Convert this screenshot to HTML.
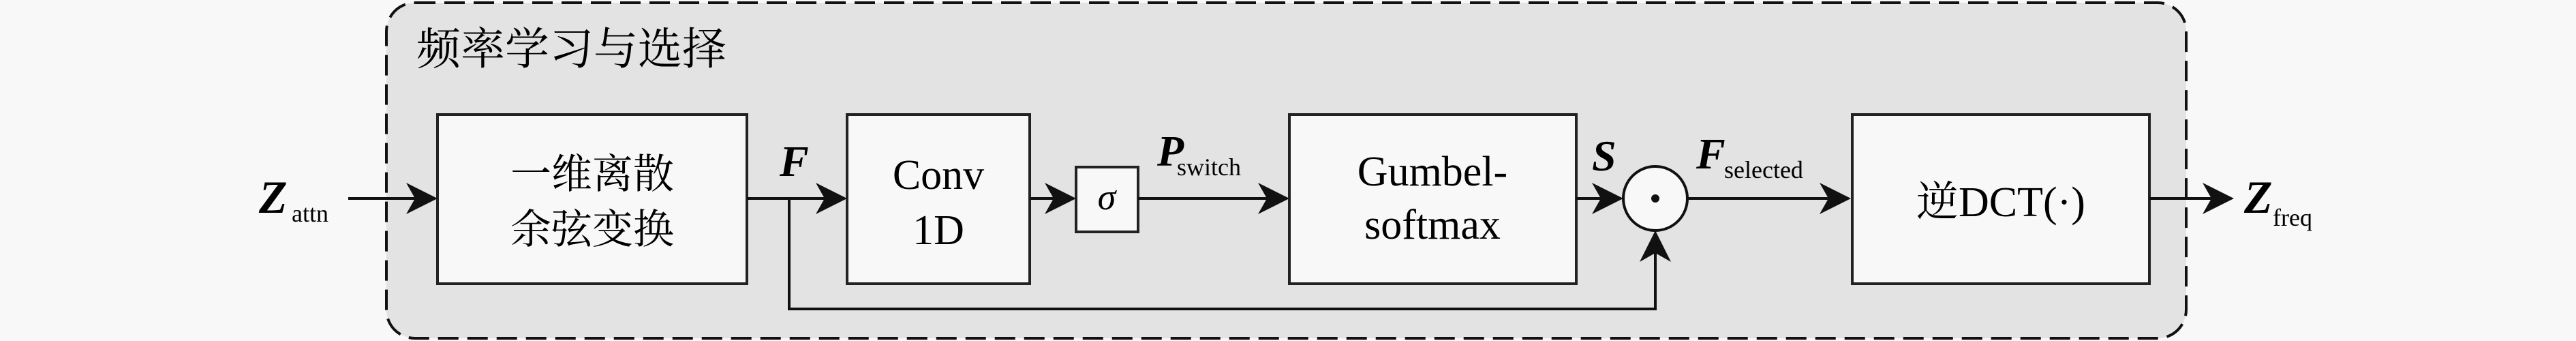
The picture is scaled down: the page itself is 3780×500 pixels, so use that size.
<!DOCTYPE html>
<html><head><meta charset="utf-8"><style>
html,body{margin:0;padding:0;background:#f8f8f8;}
svg{display:block;}
</style></head><body>
<svg width="3780" height="500" viewBox="0 0 3780 500" xmlns="http://www.w3.org/2000/svg" font-family="'Liberation Serif','DejaVu Serif','Noto Serif CJK SC',serif">
<defs>
<path id="ah" d="M0,0 L-46,-23 L-33,0 L-46,23 Z" fill="#111"/>
</defs>
<rect x="0" y="0" width="3780" height="500" fill="#f8f8f8"/>
<rect x="567" y="4" width="2641" height="492" rx="42" ry="42" fill="#e3e3e3" stroke="#111" stroke-width="4" stroke-dasharray="30 13"/>
<text x="611" y="94" font-family="'Liberation Serif','Noto Serif CJK SC',serif" font-size="65">频率学习与选择</text>

<g fill="#f8f8f8" stroke="#222" stroke-width="4">
<rect x="642" y="168" width="454" height="248"/>
<rect x="1243" y="168" width="268" height="248"/>
<rect x="1579" y="245" width="91" height="95"/>
<rect x="1892" y="168" width="421" height="248"/>
<rect x="2718" y="168" width="436" height="248"/>
</g>
<circle cx="2429" cy="291" r="47" fill="#f8f8f8" stroke="#111" stroke-width="4"/>
<circle cx="2429" cy="291" r="6" fill="#111"/>

<g stroke="#111" stroke-width="4" fill="none">
<line x1="511" y1="291" x2="610" y2="291"/>
<line x1="1096" y1="291" x2="1210" y2="291"/>
<line x1="1511" y1="291" x2="1550" y2="291"/>
<line x1="1670" y1="291" x2="1860" y2="291"/>
<line x1="2313" y1="291" x2="2350" y2="291"/>
<line x1="2476" y1="291" x2="2690" y2="291"/>
<line x1="3154" y1="291" x2="3250" y2="291"/>
<polyline points="1158,291 1158,453 2429,453 2429,370"/>
</g>
<use href="#ah" transform="translate(642,291)"/>
<use href="#ah" transform="translate(1243,291)"/>
<use href="#ah" transform="translate(1579,291)"/>
<use href="#ah" transform="translate(1892,291)"/>
<use href="#ah" transform="translate(2382,291)"/>
<use href="#ah" transform="translate(2716,291)"/>
<use href="#ah" transform="translate(3278,291)"/>
<use href="#ah" transform="translate(2429,338) rotate(-90)"/>

<g font-size="60" text-anchor="middle">
<text x="869" y="276">一维离散</text>
<text x="869" y="357">余弦变换</text>
</g>
<g font-size="62" text-anchor="middle">
<text x="1377" y="277">Conv</text>
<text x="1377" y="358">1D</text>
<text x="2102" y="272">Gumbel-</text>
<text x="2102" y="350">softmax</text>
<text x="2936" y="317">逆DCT(·)</text>
</g>
<text x="1624" y="307" font-size="54" font-style="italic" text-anchor="middle">σ</text>

<g font-weight="bold" font-style="italic">
<text x="380" y="312" font-size="68">Z</text>
<text x="1144" y="258" font-size="64">F</text>
<text x="1698" y="243" font-size="64">P</text>
<text x="2336" y="250" font-size="64">S</text>
<text x="2489" y="247" font-size="64">F</text>
<text x="3293" y="312" font-size="68">Z</text>
</g>
<g font-size="36">
<text x="428" y="325">attn</text>
<text x="1727" y="257">switch</text>
<text x="2530" y="261">selected</text>
<text x="3335" y="331">freq</text>
</g>
</svg>
</body></html>
